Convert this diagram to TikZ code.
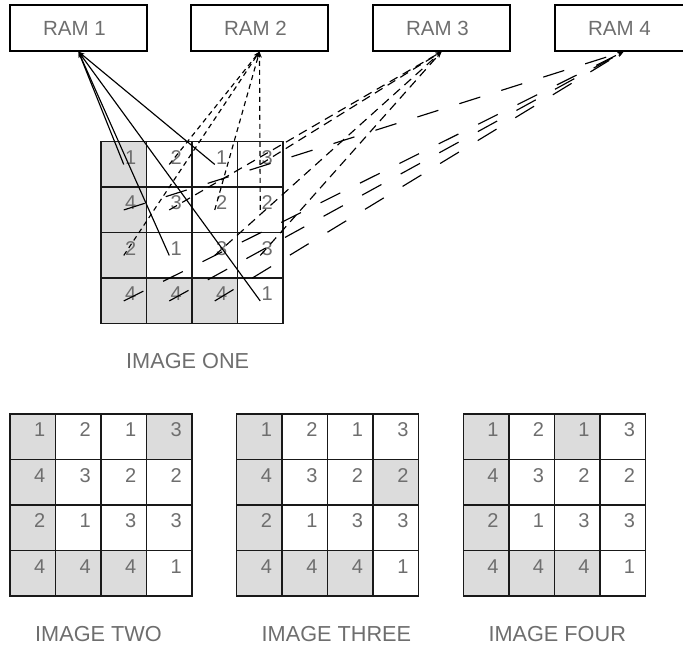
\documentclass[tikz,border=0pt]{standalone}
\usepackage{fontspec}
\setmainfont{Liberation Sans}
\usetikzlibrary{arrows.meta}
\definecolor{cellgrey}{RGB}{220,220,220}
\definecolor{inkgrey}{RGB}{110,110,110}

% One 4x4 memory map: #1 name, #2/#3 top-left corner, #4/#5 extra shaded cell
\newcommand\cellgrid[5]{%
  \foreach \r/\row in {1/{1,2,1,3},2/{4,3,2,2},3/{2,1,3,3},4/{4,4,4,1}}{
    \foreach \v [count=\c] in \row {
      \pgfmathtruncatemacro\shade{(\c==1)||((\r==4)&&(\c<4))||((\r==#4)&&(\c==#5))}
      \ifnum\shade=1 \def\cellfill{cellgrey}\else\def\cellfill{white}\fi
      \node[cell, fill=\cellfill] (#1-\r-\c) at ({#2+(\c-0.5)*45.5},{#3+(\r-0.5)*45.5}) {};
      \node[num, xshift=7pt, yshift=7pt] (#1-n-\r-\c) at (#1-\r-\c.center) {\v};
    }
  }
}

\begin{document}
\begin{tikzpicture}[x=1pt, y=-1pt,
  rambox/.style={draw=black, line width=1.4pt, minimum width=137pt,
    minimum height=46pt, inner sep=0pt, text=inkgrey,
    font=\fontsize{20.5}{24}\selectfont},
  cell/.style={draw=black!90, line width=1.5pt, minimum size=45.5pt, inner sep=0pt},
  num/.style={inner sep=0pt, text=inkgrey, font=\fontsize{20}{24}\selectfont},
  caption/.style={anchor=base west, inner sep=0pt, text=inkgrey,
    font=\fontsize{21.7}{26}\selectfont},
  link/.style={line width=1.15pt, -{Stealth[length=6pt,width=4.5pt]}},
  bus2/.style={link, dash pattern=on 5pt off 4pt},
  bus3/.style={link, dash pattern=on 9pt off 6pt},
  bus4/.style={link, dash pattern=on 22pt off 22pt},
]
\useasboundingbox (0,0) rectangle (683,645);
\clip (0,0) rectangle (683,645);

% memory banks
\node[rambox] (ram1) at (78.5,28)  {RAM 1\hspace*{8pt}};
\node[rambox] (ram2) at (259.5,28) {RAM 2\hspace*{8pt}};
\node[rambox] (ram3) at (441.5,28) {RAM 3\hspace*{8pt}};
\node[rambox] (ram4) at (623.5,28) {RAM 4\hspace*{8pt}};

% the four image maps
\cellgrid{one}{101}{141.7}{0}{0}
\cellgrid{two}{10}{414}{1}{4}
\cellgrid{three}{236.7}{414}{2}{4}
\cellgrid{four}{463.3}{414}{1}{3}

\node[caption] (capone)   at (126,368)   {IMAGE ONE};
\node[caption] (captwo)   at (35,641)    {IMAGE TWO};
\node[caption] (capthree) at (261.5,641) {IMAGE THREE};
\node[caption] (capfour)  at (488.3,641) {IMAGE FOUR};

% pixels of image one fetched from each bank
\foreach \r/\c in {1/1,1/3,3/2,4/4}
  \draw[link] (one-\r-\c.center) -- (ram1.south);
\foreach \r/\c in {1/2,2/3,2/4,3/1}
  \draw[bus2] (one-\r-\c.center) -- (ram2.south);
\foreach \r/\c in {1/4,2/2,3/3,3/4}
  \draw[bus3] (one-\r-\c.center) -- (ram3.south);
\foreach \r/\c in {2/1,4/1,4/2,4/3}
  \draw[bus4] (one-\r-\c.center) -- (ram4.south);
\end{tikzpicture}
\end{document}
